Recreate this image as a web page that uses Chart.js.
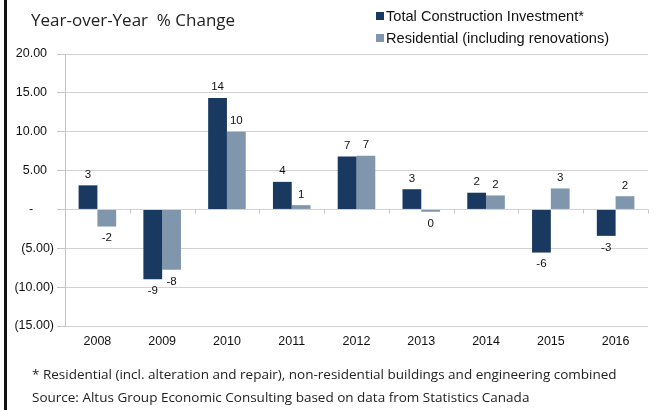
<!DOCTYPE html>
<html>
<head>
<meta charset="utf-8">
<script src="https://cdn.jsdelivr.net/npm/chart.js@4.4.1/dist/chart.umd.min.js"></script>
<style>
  html, body { margin: 0; padding: 0; background: #fff; }
  #wrap { position: relative; width: 663px; height: 410px; overflow: hidden; }
  #chart { position: absolute; left: 0; top: 0; }
  .edge { position: absolute; left: 4px; top: 0; width: 3px; height: 410px; background: #111; }
  .title { position: absolute; left: 31px; top: 8px; font: 17px 'Open Sans', sans-serif; color: #222; white-space: pre; }
  .legend { position: absolute; left: 376px; font: 14.6px 'Liberation Sans', Arial, sans-serif; color: #111; white-space: nowrap; }
  .legend i { display: inline-block; width: 8px; height: 8px; margin-right: 2px; vertical-align: 1px; }
  .note { position: absolute; left: 32px; font: 13.5px 'Open Sans', sans-serif; color: #222; white-space: nowrap; }
</style>
</head>
<body>
<div id="wrap">
  <canvas id="chart" width="663" height="410"></canvas>
  <div class="edge"></div>
  <div class="title">Year-over-Year  % Change</div>
  <div id="legend"></div>
  <div class="note" style="top:365px">* Residential (incl. alteration and repair), non-residential buildings and engineering combined</div>
  <div class="note" style="top:388px">Source: Altus Group Economic Consulting based on data from Statistics Canada</div>
</div>
<script>
// valeurs
const years = ['2008', '2009', '2010', '2011', '2012', '2013', '2014', '2015', '2016'];
const totalInvestment = [3.1, -9.0, 14.35, 3.55, 6.8, 2.6, 2.15, -5.55, -3.4];
const residential = [-2.2, -7.75, 10.0, 0.55, 6.9, -0.3, 1.8, 2.7, 1.7];
const seriesNames = ['Total Construction Investment*', 'Residential (including renovations)'];
const seriesColors = ['#1a3961', '#7f96ad'];
const yTicks = [-15, -10, -5, 0, 5, 10, 15, 20];

// légende en HTML
const legendEl = document.getElementById('legend');
seriesNames.forEach((name, i) => {
  const row = document.createElement('div');
  row.className = 'legend';
  row.style.top = (8 + i * 22) + 'px';
  row.innerHTML = '<i style="background:' + seriesColors[i] + '"></i>' + name;
  legendEl.appendChild(row);
});

// format comptable : 20.00 / - / (5.00)
function accounting(v) {
  if (v === 0) return '-      ';
  if (v < 0) return '(' + Math.abs(v).toFixed(2) + ')';
  return v.toFixed(2) + '  ';
}

// étiquettes de valeurs au-dessus / en dessous des barres
const valueLabels = {
  id: 'valueLabels',
  afterDatasetsDraw(chart) {
    const ctx = chart.ctx;
    ctx.save();
    ctx.font = '11.5px "Liberation Sans", Arial, sans-serif';
    ctx.fillStyle = '#111';
    ctx.textAlign = 'center';
    chart.data.datasets.forEach((ds, di) => {
      chart.getDatasetMeta(di).data.forEach((bar, i) => {
        const v = ds.data[i];
        let txt = String(Math.round(v));
        if (txt === '-0') txt = '0';
        if (v >= 0) {
          ctx.textBaseline = 'bottom';
          ctx.fillText(txt, bar.x, bar.y - 5);
        } else {
          ctx.textBaseline = 'top';
          ctx.fillText(txt, bar.x, bar.y + 6);
        }
      });
    });
    ctx.restore();
  }
};

// petits traits de séparation des catégories sur la ligne zéro
const zeroTicks = {
  id: 'zeroTicks',
  afterDraw(chart) {
    const x = chart.scales.x, y = chart.scales.y;
    const y0 = Math.round(y.getPixelForValue(0)) + 0.5;
    const half = (x.getPixelForValue(1) - x.getPixelForValue(0)) / 2;
    const ctx = chart.ctx;
    ctx.save();
    ctx.strokeStyle = '#c4c4c4';
    ctx.lineWidth = 1;
    ctx.beginPath();
    for (let i = 1; i <= years.length; i++) {
      const px = Math.round(x.getPixelForValue(i - 1) + half) + 0.5;
      ctx.moveTo(px, y0);
      ctx.lineTo(px, y0 + 4);
    }
    ctx.stroke();
    ctx.restore();
  }
};

new Chart(document.getElementById('chart'), {
  type: 'bar',
  data: {
    labels: years,
    datasets: [
      { label: seriesNames[0], data: totalInvestment, backgroundColor: seriesColors[0] },
      { label: seriesNames[1], data: residential, backgroundColor: seriesColors[1] }
    ]
  },
  options: {
    responsive: false,
    animation: false,
    events: [],
    layout: { padding: { left: 0, right: 15, top: 54, bottom: 0 } },
    datasets: { bar: { categoryPercentage: 0.58, barPercentage: 1.0 } },
    plugins: { legend: { display: false }, tooltip: { enabled: false } },
    scales: {
      x: {
        grid: { display: false, drawTicks: false },
        border: { display: false },
        ticks: {
          padding: 8,
          color: '#111',
          font: { family: '"Liberation Sans", Arial, sans-serif', size: 12.5 }
        },
        afterFit(scale) { scale.height = 84; }
      },
      y: {
        min: -15,
        max: 20,
        afterBuildTicks(scale) { scale.ticks = yTicks.map(v => ({ value: v })); },
        grid: { color: '#d2d2d2', tickColor: '#c4c4c4', tickLength: 8, lineWidth: 1 },
        border: { display: true, color: '#c4c4c4' },
        ticks: {
          padding: 3,
          color: '#111',
          font: { family: '"Liberation Sans", Arial, sans-serif', size: 12.5 },
          callback: v => accounting(v)
        },
        afterFit(scale) { scale.width = 65; }
      }
    }
  },
  plugins: [valueLabels, zeroTicks]
});
</script>
</body>
</html>
